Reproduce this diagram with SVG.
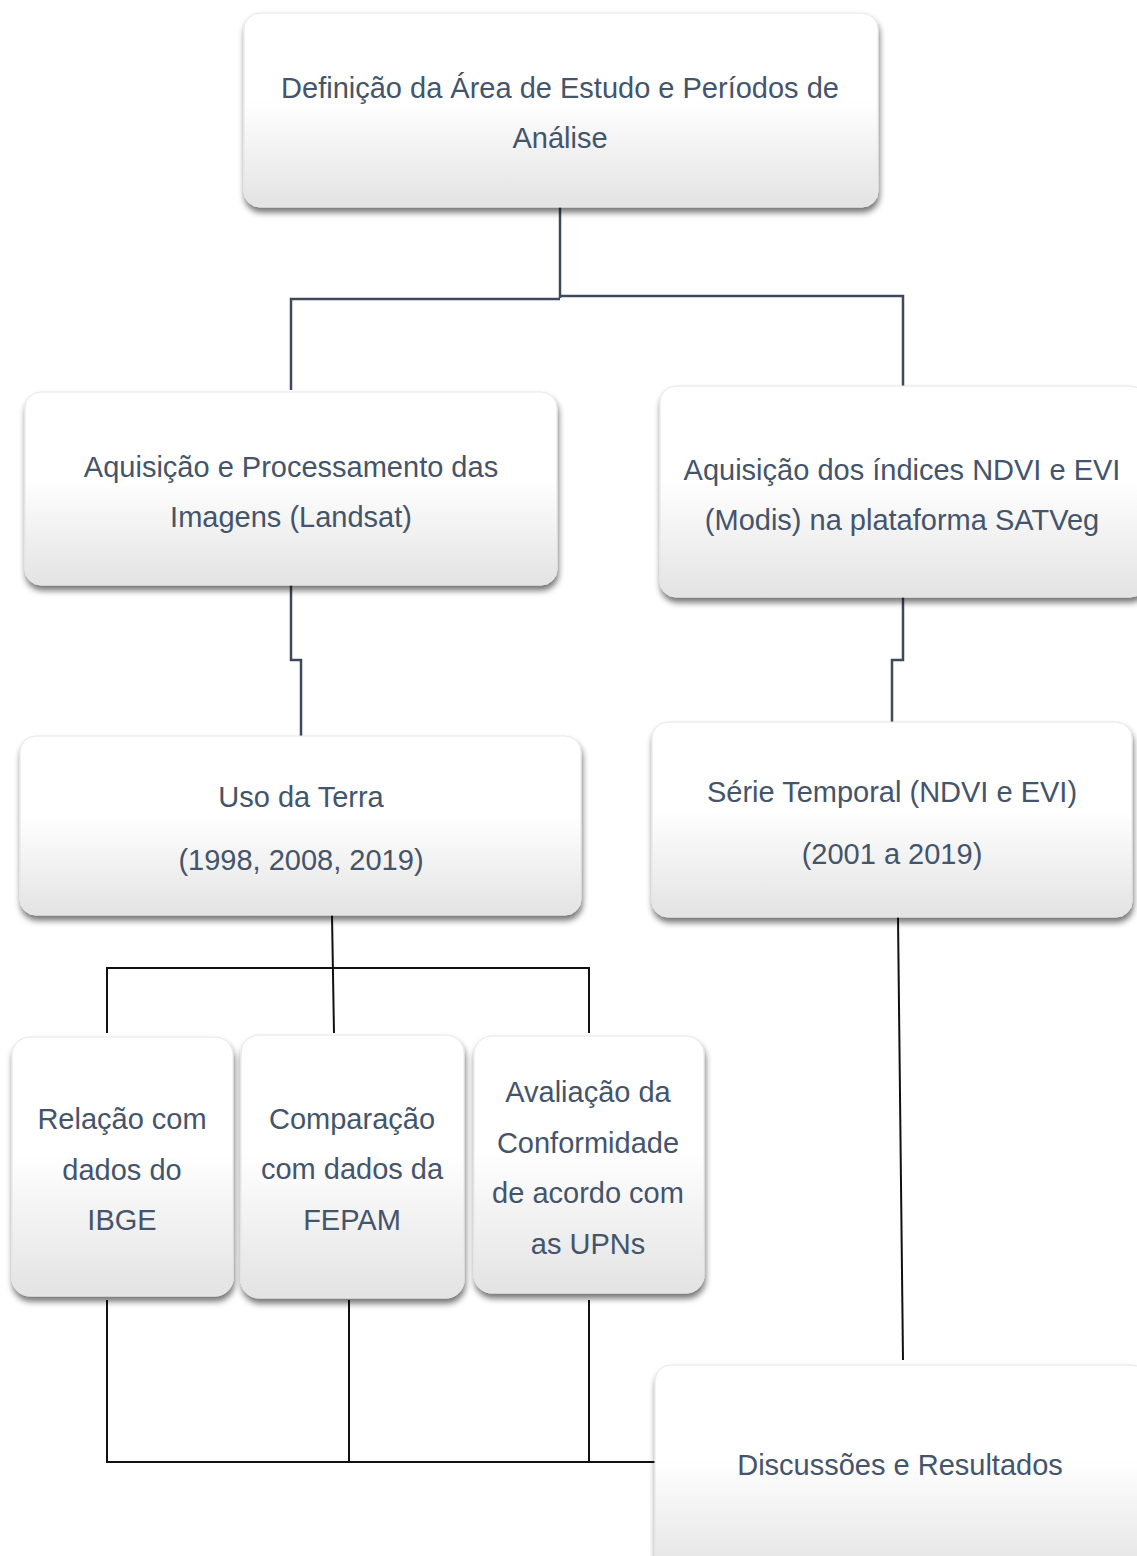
<svg xmlns="http://www.w3.org/2000/svg" width="1137" height="1556" viewBox="0 0 1137 1556">
<defs>
<linearGradient id="g" x1="0" y1="0" x2="0" y2="1">
<stop offset="0" stop-color="#ffffff"/>
<stop offset="0.45" stop-color="#ffffff"/>
<stop offset="1" stop-color="#e3e3e3"/>
</linearGradient>
<filter id="sh" x="-10%" y="-10%" width="120%" height="130%">
<feGaussianBlur in="SourceAlpha" stdDeviation="3"/>
<feOffset dx="1" dy="5" result="b"/>
<feComponentTransfer><feFuncA type="linear" slope="0.55"/></feComponentTransfer>
<feMerge><feMergeNode/><feMergeNode in="SourceGraphic"/></feMerge>
</filter>
</defs>
<style>
.box{fill:url(#g);stroke:#e6e6e6;stroke-width:1;filter:url(#sh)}
.t{font-family:"Liberation Sans",Arial,sans-serif;font-size:29px;fill:#44546A;text-anchor:middle}
.c1{fill:none;stroke:#3c4a5c;stroke-width:2.5}
.c2{fill:none;stroke:#111111;stroke-width:2}
</style>
<g id="connectors">
<path class="c1" d="M560 207 V298 M560 299 H291 V390 M560 296 H903 V386"/>
<path class="c1" d="M291 585 V660 H301 V736"/>
<path class="c1" d="M903 597 V660 H892 V722"/>
<path class="c2" d="M332 915 L334 1033 M107 1033 V968 H589 V1033"/>
<path class="c2" d="M898 917 L903 1360"/>
<path class="c2" d="M107 1300 V1462 H655 M349 1300 V1462 M589 1300 V1462"/>
</g>
<g id="n1">
<rect class="box" x="244" y="13" width="634" height="194" rx="16"/>
<text class="t" x="560" y="98">Definição da Área de Estudo e Períodos de</text>
<text class="t" x="560" y="148">Análise</text>
</g>
<g id="n2">
<rect class="box" x="25" y="392" width="532" height="193" rx="16"/>
<text class="t" x="291" y="477">Aquisição e Processamento das</text>
<text class="t" x="291" y="527">Imagens (Landsat)</text>
</g>
<g id="n3">
<rect class="box" x="660" y="386" width="486" height="211" rx="16"/>
<text class="t" x="902" y="480">Aquisição dos índices NDVI e EVI</text>
<text class="t" x="902" y="530">(Modis) na plataforma SATVeg</text>
</g>
<g id="n4">
<rect class="box" x="20" y="736" width="561" height="179" rx="16"/>
<text class="t" x="301" y="807">Uso da Terra</text>
<text class="t" x="301" y="870">(1998, 2008, 2019)</text>
</g>
<g id="n5">
<rect class="box" x="652" y="722" width="480" height="195" rx="16"/>
<text class="t" x="892" y="802">Série Temporal (NDVI e EVI)</text>
<text class="t" x="892" y="864">(2001 a 2019)</text>
</g>
<g id="n6">
<rect class="box" x="12" y="1037" width="221" height="259" rx="18"/>
<text class="t" x="122" y="1129">Relação com</text>
<text class="t" x="122" y="1180">dados do</text>
<text class="t" x="122" y="1230">IBGE</text>
</g>
<g id="n7">
<rect class="box" x="241" y="1035" width="223" height="263" rx="18"/>
<text class="t" x="352" y="1129">Comparação</text>
<text class="t" x="352" y="1179">com dados da</text>
<text class="t" x="352" y="1230">FEPAM</text>
</g>
<g id="n8">
<rect class="box" x="474" y="1036" width="230" height="257" rx="18"/>
<text class="t" x="588" y="1102">Avaliação da</text>
<text class="t" x="588" y="1153">Conformidade</text>
<text class="t" x="588" y="1203">de acordo com</text>
<text class="t" x="588" y="1254">as UPNs</text>
</g>
<g id="n9">
<rect class="box" x="655" y="1365" width="492" height="210" rx="16"/>
<text class="t" x="900" y="1475">Discussões e Resultados</text>
</g>
</svg>
